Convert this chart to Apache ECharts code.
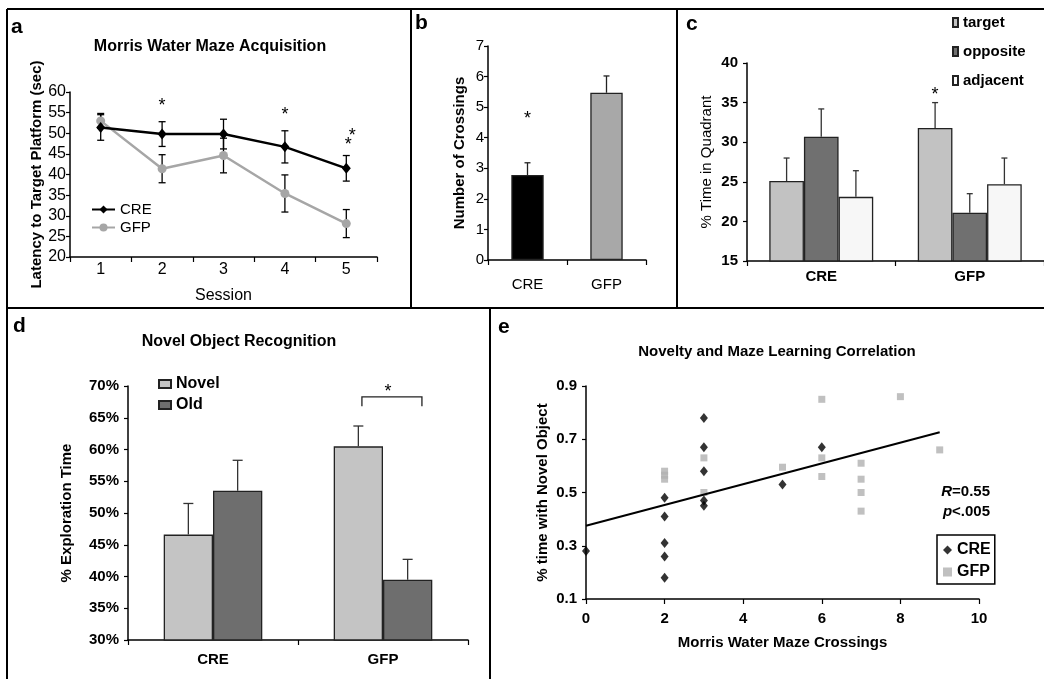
<!DOCTYPE html>
<html><head><meta charset="utf-8">
<script src="https://cdn.jsdelivr.net/npm/echarts@6/dist/echarts.min.js"></script>
<style>html,body{margin:0;padding:0;background:#fff}#c{width:1044px;height:679px}</style>
</head><body><div id="c"></div>
<script>
// ---------- Panel a: Morris Water Maze Acquisition ----------
const sessions = ['1', '2', '3', '4', '5'];
const creLatency = [51.4, 49.8, 49.8, 46.7, 41.5];
const creLatencyErr = [3.1, 3.0, 3.6, 3.9, 3.1];
const gfpLatency = [53.0, 41.4, 44.6, 35.4, 28.1];
const gfpLatencyErr = [1.8, 3.4, 4.2, 4.5, 3.4];
const starsA = [[1, 57.6, 0], [3, 55.3, 0], [4, 50.4, 6], [4, 48.0, 2]];

// ---------- Panel b: Number of Crossings ----------
const groups = ['CRE', 'GFP'];
const crossings = [2.78, 5.47];
const crossingsErr = [0.40, 0.55];
const starsB = [[0, 4.75, 0]];

// ---------- Panel c: % Time in Quadrant ----------
const quadrants = ['target', 'opposite', 'adjacent'];
const quadTarget = [25.1, 31.8];
const quadTargetErr = [2.9, 3.2];
const quadOpposite = [30.7, 21.1];
const quadOppositeErr = [3.5, 2.4];
const quadAdjacent = [23.1, 24.7];
const quadAdjacentErr = [3.3, 3.3];
const starsC = [[1, 36.4, 0]];

// ---------- Panel d: Novel Object Recognition ----------
const objects = ['Novel', 'Old'];
const novelPct = [46.6, 60.5];
const novelErr = [4.9, 3.2];
const oldPct = [53.5, 39.5];
const oldErr = [4.8, 3.2];
const bracketD = [[1, 68.3, 66.8]];
const starsD = [[1, 69.7, 5]];

// ---------- Panel e: Novelty and Maze Learning Correlation ----------
const creCrossings = [0, 2, 2, 2, 2, 2, 3, 3, 3, 3, 3, 5, 6];
const creNovelty = [0.28, 0.48, 0.41, 0.31, 0.26, 0.18, 0.78, 0.67, 0.58, 0.47, 0.45, 0.53, 0.67];
const gfpCrossings = [2, 2, 2, 3, 3, 5, 6, 6, 6, 7, 7, 7, 7, 8, 9];
const gfpNovelty = [0.58, 0.565, 0.55, 0.63, 0.50, 0.595, 0.85, 0.63, 0.56, 0.61, 0.55, 0.50, 0.43, 0.86, 0.66];
const trendX = [0, 9];
const trendY = [0.375, 0.726];

// ---------- styles ----------
const FF = '"Liberation Sans", Arial, Helvetica, sans-serif';
const BLACK = '#000';
const C_GFP_LINE = '#a6a6a6';

function errBars(xi, yi, vals, errs, o) {
  return {
    type: 'custom', xAxisIndex: xi, yAxisIndex: yi, z: 6, silent: true,
    data: vals.map((v, i) => [i, v, errs[i]]),
    renderItem(params, api) {
      const i = api.value(0), v = api.value(1), e = api.value(2);
      const band = api.size([1, 0])[0];
      const p = api.coord([i, v]);
      const x = p[0] + o.offset * band;
      const yt = api.coord([i, v + e])[1];
      const yb = o.both ? api.coord([i, v - e])[1] : p[1];
      const style = { stroke: o.color, lineWidth: o.width, fill: null };
      const h = o.cap / 2;
      const ch = [
        { type: 'line', shape: { x1: x, y1: yt, x2: x, y2: yb }, style },
        { type: 'line', shape: { x1: x - h, y1: yt, x2: x + h, y2: yt }, style }
      ];
      if (o.both) ch.push({ type: 'line', shape: { x1: x - h, y1: yb, x2: x + h, y2: yb }, style });
      return { type: 'group', children: ch };
    }
  };
}
function starSeries(xi, yi, pts, offsetFrac) {
  return {
    type: 'custom', xAxisIndex: xi, yAxisIndex: yi, z: 7, silent: true,
    data: pts,
    renderItem(params, api) {
      const p = api.coord([api.value(0), api.value(1)]);
      const band = api.size([1, 0])[0];
      return {
        type: 'text',
        style: { text: '*', x: p[0] + (offsetFrac || 0) * band + api.value(2), y: p[1] + 4,
          fontSize: 18, fontFamily: FF, fill: BLACK, align: 'center', verticalAlign: 'middle' }
      };
    }
  };
}
function valAxis(gi, min, max, interval, o) {
  return Object.assign({
    type: 'value', gridIndex: gi, min, max, interval,
    axisLine: { show: true, lineStyle: { color: BLACK, width: 1.5 } },
    axisTick: { show: true, length: 4, lineStyle: { color: BLACK, width: 1.2 } },
    splitLine: { show: false },
    axisLabel: { color: BLACK, fontFamily: FF, fontSize: 15, margin: 6 },
    nameLocation: 'middle',
    nameTextStyle: { color: BLACK, fontFamily: FF, fontSize: 15, fontWeight: 'bold' }
  }, o || {});
}
function catAxis(gi, data, o) {
  return Object.assign({
    type: 'category', gridIndex: gi, data,
    axisLine: { show: true, lineStyle: { color: BLACK, width: 1.5 } },
    axisTick: { show: true, length: 5, lineStyle: { color: BLACK, width: 1.2 } },
    axisLabel: { color: BLACK, fontFamily: FF, fontSize: 15, margin: 6 },
    nameLocation: 'middle',
    nameTextStyle: { color: BLACK, fontFamily: FF, fontSize: 15 }
  }, o || {});
}
const barBorder = { borderColor: '#222', borderWidth: 1.3 };

const chart = echarts.init(document.getElementById('c'), null, { renderer: 'canvas' });
const option = {
  animation: false,
  backgroundColor: '#fff',
  title: [
    { text: 'Morris Water Maze Acquisition', left: 205, top: 34, textAlign: 'center',
      textStyle: { fontFamily: FF, fontSize: 16, fontWeight: 'bold', color: BLACK } },
    { text: 'Novel Object Recognition', left: 234, top: 329, textAlign: 'center',
      textStyle: { fontFamily: FF, fontSize: 16, fontWeight: 'bold', color: BLACK } },
    { text: 'Novelty and Maze Learning Correlation', left: 772, top: 339, textAlign: 'center',
      textStyle: { fontFamily: FF, fontSize: 15, fontWeight: 'bold', color: BLACK } }
  ],
  grid: [
    { left: 70, top: 92, width: 307, height: 165 },
    { left: 488, top: 46, width: 158, height: 214 },
    { left: 747, top: 63, width: 297, height: 198 },
    { left: 128, top: 386, width: 340, height: 254 },
    { left: 586, top: 386, width: 393, height: 213 }
  ],
  xAxis: [
    catAxis(0, sessions, { name: 'Session', nameGap: 31, nameTextStyle: { color: BLACK, fontFamily: FF, fontSize: 16 },
      axisLabel: { color: BLACK, fontFamily: FF, fontSize: 16, margin: 5 } }),
    catAxis(1, groups, { axisLabel: { color: BLACK, fontFamily: FF, fontSize: 15, margin: 17 } }),
    catAxis(2, groups, { axisLabel: { color: BLACK, fontFamily: FF, fontSize: 15, fontWeight: 'bold', margin: 8 } }),
    catAxis(3, groups, { axisLabel: { color: BLACK, fontFamily: FF, fontSize: 15, fontWeight: 'bold', margin: 12 } }),
    valAxis(4, 0, 10, 2, { name: 'Morris Water Maze Crossings', nameGap: 36,
      axisTick: { show: true, length: 5, lineStyle: { color: BLACK, width: 1.2 } },
      axisLabel: { color: BLACK, fontFamily: FF, fontSize: 15, fontWeight: 'bold', margin: 12 } })
  ],
  yAxis: [
    valAxis(0, 20, 60, 5, { name: 'Latency to Target Platform (sec)', nameGap: 23,
      axisLabel: { color: BLACK, fontFamily: FF, fontSize: 16, margin: 4 } }),
    valAxis(1, 0, 7, 1, { name: 'Number of Crossings', nameGap: 21,
      axisLabel: { color: BLACK, fontFamily: FF, fontSize: 15, margin: 4 } }),
    valAxis(2, 15, 40, 5, { name: '% Time in Quadrant', nameGap: 33,
      nameTextStyle: { color: BLACK, fontFamily: FF, fontSize: 15 },
      axisLabel: { color: BLACK, fontFamily: FF, fontSize: 15, fontWeight: 'bold', margin: 9 } }),
    valAxis(3, 30, 70, 5, { name: '% Exploration Time', nameGap: 54,
      axisLabel: { color: BLACK, fontFamily: FF, fontSize: 15, fontWeight: 'bold', margin: 9, formatter: '{value}%' } }),
    valAxis(4, 0.1, 0.9, 0.2, { name: '% time with Novel Object', nameGap: 36,
      axisLabel: { color: BLACK, fontFamily: FF, fontSize: 15, fontWeight: 'bold', margin: 9,
        formatter: v => v.toFixed(1) } })
  ],
  legend: [
    { data: ['CRE', 'GFP'], orient: 'vertical', left: 86, top: 197, itemWidth: 23, itemHeight: 10, itemGap: 3,
      textStyle: { fontFamily: FF, fontSize: 15, color: BLACK }, selectedMode: false },
    { data: quadrants, orient: 'vertical', left: 947, top: 10, icon: 'rect', itemWidth: 5, itemHeight: 9, itemGap: 14,
      textStyle: { fontFamily: FF, fontSize: 15, fontWeight: 'bold', color: BLACK }, selectedMode: false },
    { data: objects, orient: 'vertical', left: 153, top: 371, icon: 'rect', itemWidth: 12, itemHeight: 8, itemGap: 5,
      textStyle: { fontFamily: FF, fontSize: 16, fontWeight: 'bold', color: BLACK }, selectedMode: false },
    { data: ['CRE ', 'GFP '], orient: 'vertical', left: 937, top: 535, itemWidth: 9, itemHeight: 9, itemGap: 6,
      padding: [7, 4, 4, 6], borderColor: BLACK, borderWidth: 1.5, formatter: n => n.trim(),
      textStyle: { fontFamily: FF, fontSize: 16, fontWeight: 'bold', color: BLACK }, selectedMode: false }
  ],
  series: [
    // panel a
    errBars(0, 0, creLatency, creLatencyErr, { offset: 0, cap: 7, both: true, color: BLACK, width: 1.3 }),
    errBars(0, 0, gfpLatency, gfpLatencyErr, { offset: 0, cap: 7, both: true, color: BLACK, width: 1.3 }),
    { name: 'GFP', type: 'line', xAxisIndex: 0, yAxisIndex: 0, data: gfpLatency, z: 8,
      symbol: 'circle', symbolSize: 9, lineStyle: { color: C_GFP_LINE, width: 2.5 },
      itemStyle: { color: C_GFP_LINE } },
    { name: 'CRE', type: 'line', xAxisIndex: 0, yAxisIndex: 0, data: creLatency, z: 9,
      symbol: 'diamond', symbolSize: [9, 11], lineStyle: { color: BLACK, width: 2.5 },
      itemStyle: { color: BLACK } },
    starSeries(0, 0, starsA, 0),
    // panel b
    { type: 'bar', xAxisIndex: 1, yAxisIndex: 1, barCategoryGap: '59%',
      data: crossings.map((v, i) => ({ value: v, itemStyle: { color: ['#000000', '#a8a8a8'][i] } })),
      itemStyle: barBorder },
    errBars(1, 1, crossings, crossingsErr, { offset: 0, cap: 6, both: false, color: '#222', width: 1.3 }),
    starSeries(1, 1, starsB, 0),
    // panel c
    { name: 'target', type: 'bar', xAxisIndex: 2, yAxisIndex: 2, data: quadTarget, barGap: '0%', barCategoryGap: '30%',
      itemStyle: Object.assign({ color: '#c2c2c2' }, barBorder) },
    { name: 'opposite', type: 'bar', xAxisIndex: 2, yAxisIndex: 2, data: quadOpposite, barGap: '0%', barCategoryGap: '30%',
      itemStyle: Object.assign({ color: '#707070' }, barBorder) },
    { name: 'adjacent', type: 'bar', xAxisIndex: 2, yAxisIndex: 2, data: quadAdjacent, barGap: '0%', barCategoryGap: '30%',
      itemStyle: Object.assign({ color: '#f7f7f7' }, barBorder) },
    errBars(2, 2, quadTarget, quadTargetErr, { offset: -0.7 / 3, cap: 6, both: false, color: '#333', width: 1.3 }),
    errBars(2, 2, quadOpposite, quadOppositeErr, { offset: 0, cap: 6, both: false, color: '#333', width: 1.3 }),
    errBars(2, 2, quadAdjacent, quadAdjacentErr, { offset: 0.7 / 3, cap: 6, both: false, color: '#333', width: 1.3 }),
    starSeries(2, 2, starsC, -0.7 / 3),
    // panel d
    { name: 'Novel', type: 'bar', xAxisIndex: 3, yAxisIndex: 3, data: novelPct, barGap: '0%', barCategoryGap: '42%',
      itemStyle: Object.assign({ color: '#c4c4c4' }, barBorder) },
    { name: 'Old', type: 'bar', xAxisIndex: 3, yAxisIndex: 3, data: oldPct, barGap: '0%', barCategoryGap: '42%',
      itemStyle: Object.assign({ color: '#6e6e6e' }, barBorder) },
    errBars(3, 3, novelPct, novelErr, { offset: -0.145, cap: 10, both: false, color: '#333', width: 1.3 }),
    errBars(3, 3, oldPct, oldErr, { offset: 0.145, cap: 10, both: false, color: '#333', width: 1.3 }),
    { type: 'custom', xAxisIndex: 3, yAxisIndex: 3, silent: true, z: 7, data: bracketD,
      renderItem(params, api) {
        const c = api.value(0);
        const band = api.size([1, 0])[0];
        const p = api.coord([c, api.value(1)]);
        const yl = api.coord([c, api.value(2)])[1];
        const x1 = p[0] - 0.124 * band, x2 = p[0] + 0.229 * band;
        return { type: 'polyline', shape: { points: [[x1, yl], [x1, p[1]], [x2, p[1]], [x2, yl]] },
          style: { stroke: '#222', lineWidth: 1.3, fill: null } };
      } },
    starSeries(3, 3, starsD, 0),
    // panel e
    { name: 'GFP ', type: 'scatter', xAxisIndex: 4, yAxisIndex: 4, symbol: 'rect', symbolSize: 7, z: 3,
      itemStyle: { color: '#b0b0b0' }, data: gfpCrossings.map((x, i) => [x, gfpNovelty[i]]) },
    { name: 'CRE ', type: 'scatter', xAxisIndex: 4, yAxisIndex: 4, symbol: 'diamond', symbolSize: [8, 10], z: 4,
      itemStyle: { color: BLACK }, data: creCrossings.map((x, i) => [x, creNovelty[i]]) },
    { type: 'line', xAxisIndex: 4, yAxisIndex: 4, symbol: 'none', silent: true, z: 5,
      lineStyle: { color: BLACK, width: 2 }, data: trendX.map((x, i) => [x, trendY[i]]) }
  ],
  graphic: [
    // panel frames
    { type: 'line', shape: { x1: 7, y1: 9, x2: 1044, y2: 9 }, style: { stroke: BLACK, lineWidth: 2 } },
    { type: 'line', shape: { x1: 7, y1: 9, x2: 7, y2: 679 }, style: { stroke: BLACK, lineWidth: 2 } },
    { type: 'line', shape: { x1: 411, y1: 9, x2: 411, y2: 308 }, style: { stroke: BLACK, lineWidth: 2 } },
    { type: 'line', shape: { x1: 677, y1: 9, x2: 677, y2: 308 }, style: { stroke: BLACK, lineWidth: 2 } },
    { type: 'line', shape: { x1: 7, y1: 308, x2: 1044, y2: 308 }, style: { stroke: BLACK, lineWidth: 2 } },
    { type: 'line', shape: { x1: 490, y1: 308, x2: 490, y2: 679 }, style: { stroke: BLACK, lineWidth: 2 } },
    // panel letters
    { type: 'text', style: { text: 'a', x: 11, y: 27, fontSize: 21, fontWeight: 'bold', fontFamily: FF, fill: BLACK, verticalAlign: 'middle' } },
    { type: 'text', style: { text: 'b', x: 415, y: 23, fontSize: 21, fontWeight: 'bold', fontFamily: FF, fill: BLACK, verticalAlign: 'middle' } },
    { type: 'text', style: { text: 'c', x: 686, y: 24, fontSize: 21, fontWeight: 'bold', fontFamily: FF, fill: BLACK, verticalAlign: 'middle' } },
    { type: 'text', style: { text: 'd', x: 13, y: 326, fontSize: 21, fontWeight: 'bold', fontFamily: FF, fill: BLACK, verticalAlign: 'middle' } },
    { type: 'text', style: { text: 'e', x: 498, y: 327, fontSize: 21, fontWeight: 'bold', fontFamily: FF, fill: BLACK, verticalAlign: 'middle' } },
    // stats
    { type: 'text', style: { text: '{i|R}=0.55', x: 990, y: 492, align: 'right', verticalAlign: 'middle',
      fontSize: 15, fontWeight: 'bold', fontFamily: FF, fill: BLACK,
      rich: { i: { fontStyle: 'italic', fontWeight: 'bold', fontSize: 15, fontFamily: FF, fill: BLACK } } } },
    { type: 'text', style: { text: '{i|p}<.005', x: 990, y: 512, align: 'right', verticalAlign: 'middle',
      fontSize: 15, fontWeight: 'bold', fontFamily: FF, fill: BLACK,
      rich: { i: { fontStyle: 'italic', fontWeight: 'bold', fontSize: 15, fontFamily: FF, fill: BLACK } } } }
  ]
};
chart.setOption(option);
</script>
</body></html>
